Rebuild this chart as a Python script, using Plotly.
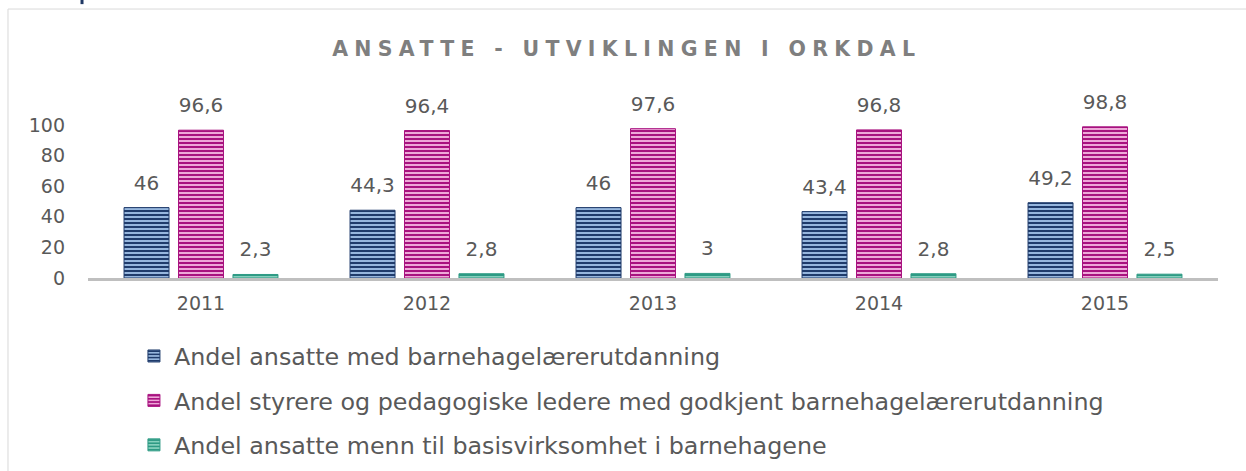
import plotly.graph_objects as go

years = ["2011", "2012", "2013", "2014", "2015"]
series_names = [
    "Andel ansatte med barnehagelærerutdanning",
    "Andel styrere og pedagogiske ledere med godkjent barnehagelærerutdanning",
    "Andel ansatte menn til basisvirksomhet i barnehagene",
]
barnehagelaerer = [46, 44.3, 46, 43.4, 49.2]
styrere = [96.6, 96.4, 97.6, 96.8, 98.8]
menn = [2.3, 2.8, 3, 2.8, 2.5]
y_ticks = [0, 20, 40, 60, 80, 100]

dark = ["#1f3b6b", "#a8127f", "#2e9a84"]
light = ["#a3c4ea", "#f6b8e2", "#8fd6c4"]

FONT = "DejaVu Sans"
TXT = "#595959"

def fmt(v):
    s = ("%g" % v)
    return s.replace(".", ",")

fig = go.Figure()
for i, (name, vals) in enumerate(zip(series_names, [barnehagelaerer, styrere, menn])):
    fig.add_trace(go.Bar(
        x=years, y=vals, name=name,
        text=[fmt(v) for v in vals],
        textposition="outside",
        textfont=dict(family=FONT, size=20, color=TXT),
        constraintext="none",
        cliponaxis=False,
        legendgroup=f"g{i}",
        hoverinfo="skip",
        marker=dict(
            color=light[i],
            line=dict(color=dark[i], width=1),
            pattern=dict(shape="-", fgcolor=dark[i], fgopacity=1, size=4, solidity=0.55, fillmode="overlay"),
        ),
    ))

# decorative frame around the chart
fig.add_shape(type="line", xref="paper", yref="paper", x0=-0.0708, x1=1.05, y0=1.758, y1=1.758,
              line=dict(color="#d9d9d9", width=1))
fig.add_shape(type="line", xref="paper", yref="paper", x0=-0.0708, x1=-0.0708, y0=1.758, y1=-1.4,
              line=dict(color="#d9d9d9", width=1))
fig.add_shape(type="line", xref="paper", yref="paper", x0=-0.0053, x1=-0.0053, y0=1.817, y1=1.79,
              line=dict(color="#1f3864", width=3))

fig.update_layout(
    width=1246, height=471,
    margin=dict(l=88, r=28, t=125, b=193, autoexpand=False),
    paper_bgcolor="white", plot_bgcolor="white",
    barmode="group", bargap=0.277, bargroupgap=0.174,
    font=dict(family=FONT, size=19, color=TXT),
    title=dict(text="<b>ANSATTE - UTVIKLINGEN I ORKDAL</b>", x=0.503, xanchor="center",
               y=0.896, yanchor="middle", xref="container", yref="container",
               font=dict(family=FONT, size=20.5, color="#7f7f7f")),
    showlegend=True,
    legend=dict(orientation="v", xref="container", yref="container", x=0.1075, xanchor="left",
                y=1 - 334 / 471, yanchor="top",
                font=dict(family=FONT, size=23.8, color=TXT), tracegroupgap=10.5,
                itemwidth=30, bgcolor="rgba(0,0,0,0)"),
    xaxis=dict(showline=True, linecolor="#bfbfbf", linewidth=3, ticks="", showgrid=False, automargin=False,
               tickfont=dict(family=FONT, size=19, color=TXT), ticklabelstandoff=6),
    yaxis=dict(range=[0, 100], tickvals=y_ticks, showgrid=False, zeroline=False, showline=False, automargin=False,
               ticks="", tickfont=dict(family=FONT, size=19, color=TXT), ticklabelstandoff=22),
)

post = """
document.body.style.margin='0';
document.querySelectorAll('.gtitle').forEach(function(e){e.style.letterSpacing='6.3px';});
document.querySelectorAll('.bartext').forEach(function(t){
  t.setAttribute('transform','translate(0,-10) ' + (t.getAttribute('transform')||''));
});
"""
fig.write_html("out.html", post_script=post, config={"displayModeBar": False})
